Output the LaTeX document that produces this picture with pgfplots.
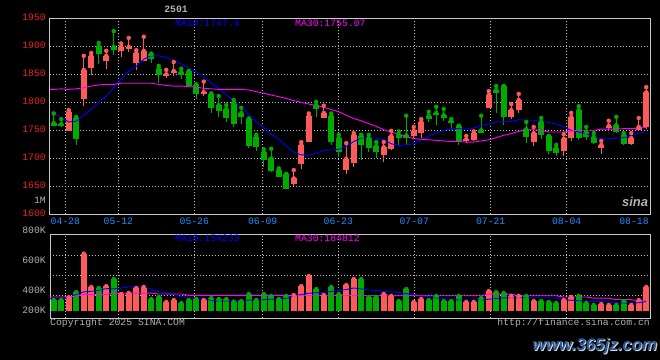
\documentclass[border=0pt]{standalone}
\usepackage{pgfplots}
\pgfplotsset{compat=1.18}
\usepackage{pgfplotstable}
\usepackage{fontspec}
\setmainfont{Liberation Mono}
\newfontfamily\wmfont{Liberation Sans}
\definecolor{upred}{HTML}{FF5A5A}
\definecolor{dngreen}{HTML}{00AA00}
\definecolor{mablue}{HTML}{0000FF}
\definecolor{mamag}{HTML}{FF00FF}
\definecolor{gridc}{HTML}{C0C0C0}
\definecolor{bord}{HTML}{C8C8C8}
\definecolor{labred}{HTML}{E82020}
\definecolor{labgray}{HTML}{B0B0B0}
\definecolor{datblue}{HTML}{1E8CFF}
\definecolor{wmblue}{HTML}{2A5A96}
\newcommand\lbl{\fontsize{9.8}{10}\selectfont}

\pgfplotstableread{
i o h l c v
2 1749 1786 1749 1783 356
4 1805 1883 1794 1858 647
5 1862 1888 1849 1883 425
7 1874 1892 1860 1883 431
9 1892 1905 1880 1899 378
10 1895 1915 1889 1899 385
11 1871 1893 1857 1888 418
12 1874 1917 1873 1892 425
15 1847 1858 1843 1850 325
16 1853 1872 1847 1856 338
20 1816 1837 1811 1818 338
32 1654 1679 1651 1664 371
33 1690 1729 1680 1724 431
34 1729 1780 1729 1776 498
36 1772 1794 1772 1781 371
39 1679 1727 1672 1699 438
40 1692 1745 1685 1742 478
44 1706 1729 1693 1720 378
45 1717 1749 1714 1740 365
48 1739 1756 1737 1749 325
49 1746 1770 1737 1765 345
55 1731 1740 1727 1734 325
56 1733 1748 1731 1745 325
58 1790 1820 1790 1813 398
61 1774 1797 1771 1786 365
62 1786 1815 1781 1804 365
64 1729 1756 1722 1745 331
68 1713 1743 1704 1735 338
69 1736 1781 1731 1774 358
73 1718 1731 1708 1724 311
74 1754 1767 1749 1758 305
77 1726 1745 1724 1736 305
78 1751 1772 1749 1756 338
79 1756 1827 1753 1818 425
}\up

\pgfplotstableread{
i o h l c v
0 1763 1780 1757 1758 338
1 1761 1770 1755 1757 338
3 1772 1774 1724 1735 391
6 1900 1906 1868 1886 418
8 1899 1927 1884 1894 478
13 1886 1887 1871 1878 345
14 1860 1865 1835 1848 358
17 1854 1860 1842 1849 318
18 1855 1856 1827 1829 338
19 1831 1832 1806 1815 345
21 1815 1816 1781 1790 351
22 1795 1811 1773 1784 345
23 1788 1795 1764 1772 345
24 1800 1804 1755 1761 327
25 1781 1790 1761 1774 331
26 1770 1771 1719 1722 378
27 1738 1742 1713 1720 338
28 1711 1716 1685 1697 378
29 1700 1717 1675 1677 365
30 1679 1682 1666 1667 345
31 1672 1672 1645 1645 365
35 1795 1801 1773 1788 411
37 1776 1780 1724 1729 425
38 1736 1742 1703 1712 378
41 1740 1742 1697 1724 478
42 1736 1742 1711 1719 358
43 1722 1729 1700 1711 358
46 1742 1748 1724 1736 331
47 1741 1776 1724 1737 411
50 1776 1783 1764 1770 338
51 1781 1792 1760 1778 365
52 1777 1788 1767 1772 331
53 1767 1770 1750 1763 331
54 1758 1758 1724 1731 365
57 1750 1776 1745 1745 351
59 1822 1829 1781 1817 391
60 1829 1829 1760 1774 385
63 1752 1765 1727 1738 365
65 1765 1772 1735 1742 331
66 1740 1740 1708 1713 325
67 1718 1724 1704 1710 318
70 1786 1793 1733 1736 365
71 1747 1756 1733 1738 318
72 1738 1745 1725 1727 305
75 1759 1774 1745 1747 305
76 1742 1745 1724 1726 331
}\down

\pgfplotsset{kstyle/.style={
  scale only axis, width=600bp, xmin=-0.5, xmax=79.5,
  axis line style={draw=bord, line width=1bp},
  major tick length=0pt,
  grid=major,
  major grid style={draw=gridc, dash pattern=on 1bp off 2bp, line width=0.8bp},
  /pgf/number format/assume math mode=true,
  tick label style={font=\lbl},
  scaled ticks=false,
  xtick={1.54,8.61,18.74,27.86,37.94,48.07,58.26,68.39},
}}

\begin{document}
\begin{tikzpicture}
\useasboundingbox (0,0) rectangle (660bp,360bp);
\fill[black] (0,0) rectangle (660bp,360bp);

% ---------------- price panel ----------------
\begin{axis}[kstyle, at={(50bp,145.7bp)}, anchor=south west, height=196bp,
  ymin=1600, ymax=1950,
  ytick={1600,1650,1700,1750,1800,1850,1900,1950},
  yticklabels={1600,1650,1700,1750,1800,1850,1900,1950},
  yticklabel style={text=labred, inner sep=0pt, xshift=-4bp, yshift=1.5bp},
  xticklabels={04-28,05-12,05-26,06-09,06-23,07-07,07-21,08-04},
  xticklabel style={text=datblue, inner sep=0pt, yshift=-3bp},
  extra x ticks={77.37}, extra x tick labels={08-18},
  extra x tick style={grid=none},
]
% wicks
\addplot[upred, only marks, mark=none, error bars/.cd, y dir=minus, y explicit,
  error bar style={line width=1bp, upred}, error mark=none]
  table[x=i, y=h, y error minus expr={\thisrow{h}-\thisrow{l}}] {\up};
\addplot[dngreen, only marks, mark=none, error bars/.cd, y dir=minus, y explicit,
  error bar style={line width=1bp, dngreen}, error mark=none]
  table[x=i, y=h, y error minus expr={\thisrow{h}-\thisrow{l}}] {\down};
% bodies
\addplot[upred, only marks, mark=none, error bars/.cd, y dir=minus, y explicit,
  error bar style={line width=6bp, upred}, error mark=none]
  table[x=i, y expr={max(\thisrow{o},\thisrow{c})}, y error minus expr={max(abs(\thisrow{c}-\thisrow{o}),2.5)}] {\up};
\addplot[dngreen, only marks, mark=none, error bars/.cd, y dir=minus, y explicit,
  error bar style={line width=6bp, dngreen}, error mark=none]
  table[x=i, y expr={max(\thisrow{o},\thisrow{c})}, y error minus expr={max(abs(\thisrow{c}-\thisrow{o}),2.5)}] {\down};
% MA10
\addplot[mablue, line width=0.9bp, mark=none] coordinates {
(-0.5,1784)(0,1780)(1,1772)(2,1765)(3,1766)(4,1777)(5,1788)(6,1800)(7,1811)(8,1826)(9,1842)
(10,1856)(11,1864)(12,1877)(13,1883)(14,1883)(15,1880)(16,1875)(17,1868)(18,1862)(19,1854)
(20,1846)(21,1834)(22,1825)(23,1813)(24,1803)(25,1791)(26,1779)(27,1765)(28,1755)(29,1743)
(30,1734)(31,1722)(32,1711)(33,1706)(34,1706)(35,1709)(36,1714)(37,1715)(38,1716)(39,1721)
(40,1730)(41,1736)(42,1737)(43,1736)(44,1733)(45,1726)(46,1723)(47,1724)(48,1726)(49,1733)
(50,1740)(51,1745)(52,1750)(53,1753)(54,1753)(55,1752)(56,1754)(57,1759)(58,1761)(59,1765)
(60,1765)(61,1766)(62,1769)(63,1768)(64,1768)(65,1766)(66,1764)(67,1761)(68,1756)(69,1750)
(70,1747)(71,1744)(72,1738)(73,1734)(74,1735)(75,1736)(76,1737)(77,1740)(78,1745)(79,1747.4)
};
% MA30
\addplot[mamag, line width=0.9bp, mark=none] coordinates {
(-0.5,1823)(0,1823)(1,1824)(2,1823)(3,1824)(4,1826)(5,1829)(6,1831)(7,1832)(8,1832)(9,1834)
(10,1834)(11,1834)(12,1834)(13,1834)(14,1832)(15,1830)(16,1829)(17,1829)(18,1828)(19,1827)
(20,1825)(21,1824)(22,1823)(23,1823)(24,1823)(25,1823)(26,1822)(27,1819)(28,1816)(29,1813)
(30,1810)(31,1807)(32,1803)(33,1800)(34,1797)(35,1794)(36,1791)(37,1787)(38,1783)(39,1777)
(40,1771)(41,1767)(42,1762)(43,1757)(44,1751)(45,1747)(46,1743)(47,1739)(48,1735)(49,1734)
(50,1733)(51,1732)(52,1731)(53,1730)(54,1730)(55,1729)(56,1729)(57,1731)(58,1733)(59,1737)
(60,1741)(61,1744)(62,1748)(63,1751)(64,1751)(65,1750)(66,1747)(67,1747)(68,1747)(69,1749)
(70,1750)(71,1750)(72,1750)(73,1752)(74,1752)(75,1752)(76,1753)(77,1753)(78,1754)(79,1755.07)
};
\end{axis}

% ---------------- volume panel ----------------
\begin{axis}[kstyle, at={(50bp,41.7bp)}, anchor=south west, height=83.6bp,
  ymin=216, ymax=773.3,
  ytick={367,503,638},
  xmajorticks=false, ymajorticks=false,
]
\addplot[upred, only marks, mark=none, error bars/.cd, y dir=minus, y explicit,
  error bar style={line width=6bp, upred}, error mark=none]
  table[x=i, y=v, y error minus expr={\thisrow{v}-267}] {\up};
\addplot[dngreen, only marks, mark=none, error bars/.cd, y dir=minus, y explicit,
  error bar style={line width=6bp, dngreen}, error mark=none]
  table[x=i, y=v, y error minus expr={\thisrow{v}-267}] {\down};
\addplot[mablue, line width=0.9bp, mark=none] coordinates {
(-0.5,347)(0,346)(1,344)(2,355)(3,375)(4,392)(5,396)(6,402)(7,414)(8,412)(9,418)
(10,425)(11,426)(12,427)(13,410)(14,395)(15,385)(16,374)(17,360)(18,350)(19,347)
(20,345)(21,335)(22,331)(23,331)(24,333)(25,336)(26,337)(27,338)(28,340)(29,343)
(30,346)(31,349)(32,365)(33,375)(34,383)(35,386)(36,390)(37,395)(38,400)(39,408)
(40,418)(41,412)(42,405)(43,400)(44,395)(45,392)(46,388)(47,380)(48,373)(49,368)
(50,360)(51,352)(52,346)(53,342)(54,338)(55,338)(56,338)(57,340)(58,343)(59,348)
(60,352)(61,353)(62,353)(63,353)(64,353)(65,353)(66,353)(67,350)(68,340)(69,336)
(70,333)(71,330)(72,329)(73,327)(74,325)(75,322)(76,317)(77,316)(78,320)(79,327)
};
\addplot[mamag, line width=0.9bp, mark=none] coordinates {
(-0.5,358)(2,358)(3,365)(4,375)(7,375)(8,384)(13,384)(14,378)(17,378)(18,369)(31,369)
(32,366)(57,366)(58,377)(61,377)(62,366)(67,366)(68,358)(71,358)(72,350)(74,350)
(75,340)(77,340)(78,333)(79,333)
};
\end{axis}

% ---------------- texts ----------------
\node[text=labgray, font=\lbl\bfseries, inner sep=0pt] at (176bp,350.3bp) {2501};
\node[text=mablue, font=\lbl, anchor=west, inner sep=0pt] at (175bp,336.5bp) {MA10:1747.4};
\node[text=mamag, font=\lbl, anchor=west, inner sep=0pt] at (295bp,336.5bp) {MA30:1755.07};
\node[text=labgray, font=\lbl, anchor=east, inner sep=0pt] at (46bp,160bp) {1M};
\node[text=labgray, font=\lbl, anchor=east, inner sep=0pt] at (46bp,129.3bp) {800K};
\node[text=labgray, font=\lbl, anchor=east, inner sep=0pt] at (46bp,99.3bp) {600K};
\node[text=labgray, font=\lbl, anchor=east, inner sep=0pt] at (46bp,69.3bp) {400K};
\node[text=labgray, font=\lbl, anchor=east, inner sep=0pt] at (46bp,50bp) {200K};
\node[text=mablue, font=\lbl, anchor=west, inner sep=0pt] at (175bp,121.7bp) {MA10:154233};
\node[text=mamag, font=\lbl, anchor=west, inner sep=0pt] at (295bp,121.7bp) {MA30:184812};
\node[text=labgray, font=\lbl, anchor=west, inner sep=0pt] at (50bp,36.7bp) {Copyright 2025 SINA.COM};
\node[text=labgray, font=\lbl, anchor=east, inner sep=0pt] at (650bp,37bp) {http://finance.sina.com.cn};
\node[text=labgray, font=\wmfont\bfseries\itshape\fontsize{13}{13}\selectfont, inner sep=0pt] at (635bp,158bp) {sina};
\node[text=white!85!black, font=\wmfont\bfseries\itshape\fontsize{17}{17}\selectfont, inner sep=0pt] at (596bp,13bp) {www.365jz.com};
\node[text=wmblue, font=\wmfont\bfseries\itshape\fontsize{17}{17}\selectfont, inner sep=0pt] at (595bp,14bp) {www.365jz.com};
\end{tikzpicture}
\end{document}
